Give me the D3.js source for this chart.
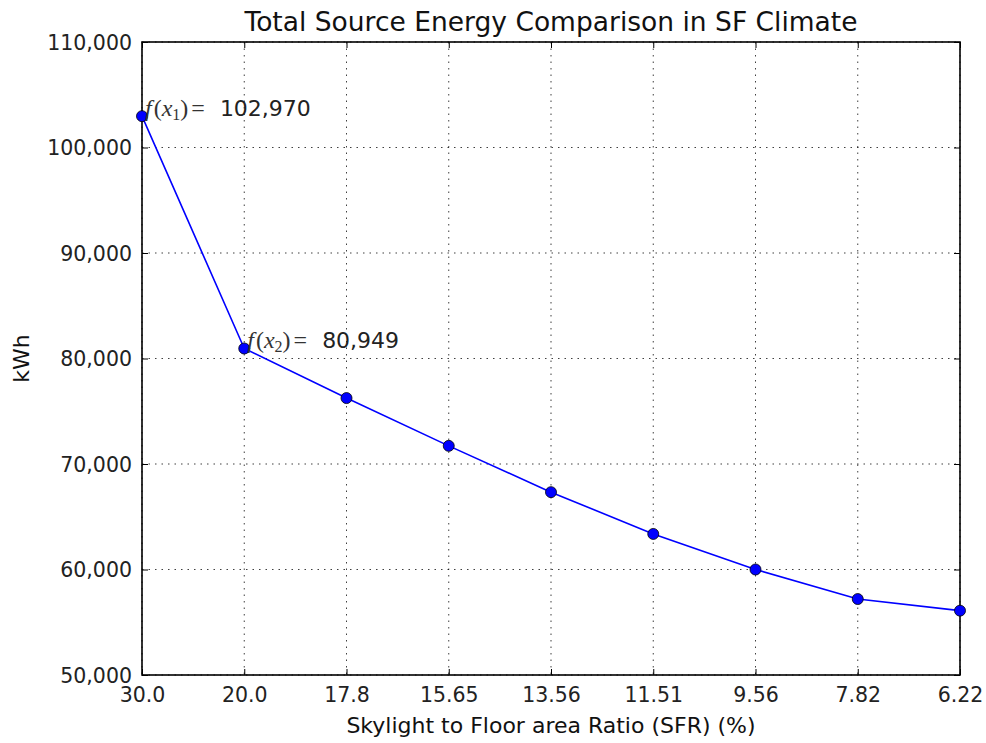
<!DOCTYPE html>
<html><head><meta charset="utf-8">
<script src="https://cdn.jsdelivr.net/npm/d3@7"></script>
<style>
body{margin:0;background:#fff;}
svg{font-family:"DejaVu Sans",sans-serif;}
</style></head>
<body><svg id="c" width="986" height="743"></svg>
<script>
const categories = ["30.0","20.0","17.8","15.65","13.56","11.51","9.56","7.82","6.22"];
const energy = [102970, 80949, 76250, 71720, 67330, 63370, 60000, 57200, 56100];
const yTicks = [50000,60000,70000,80000,90000,100000,110000];
const annotations = [{i:0, sub:"1", label:"102,970"},{i:1, sub:"2", label:"80,949"}];

const L=142, R=960, T=42, B=675;
const svg=d3.select("#c");
const x=d3.scalePoint().domain(categories).range([L,R]);
const y=d3.scaleLinear().domain([50000,110000]).range([B,T]);
const fmt=d3.format(",");

// grid
const g=svg.append("g");
g.selectAll(".gx").data(categories).join("line")
 .attr("x1",d=>x(d)).attr("x2",d=>x(d)).attr("y1",T).attr("y2",B)
 .attr("stroke","#000").attr("stroke-width",1).attr("stroke-dasharray","1.5,5").attr("opacity",0.75);
g.selectAll(".gy").data(yTicks).join("line")
 .attr("x1",L).attr("x2",R).attr("y1",d=>y(d)).attr("y2",d=>y(d))
 .attr("stroke","#000").attr("stroke-width",1).attr("stroke-dasharray","1.5,5").attr("opacity",0.75);

// axes
const ax=d3.axisBottom(x).tickSizeInner(-6).tickSizeOuter(0).tickPadding(10);
const axG=svg.append("g").attr("transform",`translate(0,${B})`).call(ax);
const ay=d3.axisLeft(y).tickValues(yTicks).tickFormat(fmt).tickSizeInner(-6).tickSizeOuter(0).tickPadding(10);
const ayG=svg.append("g").attr("transform",`translate(${L},0)`).call(ay);
const axT=svg.append("g").attr("transform",`translate(0,${T})`).call(d3.axisTop(x).tickSizeInner(-6).tickSizeOuter(0).tickFormat(""));
const ayR=svg.append("g").attr("transform",`translate(${R},0)`).call(d3.axisRight(y).tickValues(yTicks).tickSizeInner(-6).tickSizeOuter(0).tickFormat(""));
[axG,ayG,axT,ayR].forEach(s=>{s.select(".domain").remove();s.selectAll("line").attr("stroke","#000");
 s.selectAll("text").attr("font-size",20.5).attr("fill","#222").attr("font-family","DejaVu Sans");});
axG.selectAll("text").attr("dy","0.85em");
ayG.selectAll("text").attr("dy","0.35em");

// frame
svg.append("rect").attr("x",L).attr("y",T).attr("width",R-L).attr("height",B-T)
 .attr("fill","none").attr("stroke","#000").attr("stroke-width",1.6);

// line
const data=categories.map((c,i)=>({c,v:energy[i]}));
svg.append("path").datum(data).attr("fill","none").attr("stroke","#0000ff").attr("stroke-width",1.6)
 .attr("d",d3.line().x(d=>x(d.c)).y(d=>y(d.v)));
svg.selectAll(".pt").data(data).join("circle")
 .attr("cx",d=>x(d.c)).attr("cy",d=>y(d.v)).attr("r",5.5)
 .attr("fill","#0000ff").attr("stroke","#000").attr("stroke-width",0.8);

// annotations
annotations.forEach(a=>{
  const t=svg.append("text").attr("x",x(categories[a.i])+3).attr("y",y(energy[a.i]))
    .attr("font-size",24).attr("fill","#333");
  const m="Liberation Serif";
  t.append("tspan").attr("font-family",m).attr("font-style","italic").text("f");
  t.append("tspan").attr("font-family",m).attr("dx","2").text("(");
  t.append("tspan").attr("font-family",m).attr("font-style","italic").text("x");
  t.append("tspan").attr("font-family",m).attr("font-size",16).attr("dy","4").text(a.sub);
  t.append("tspan").attr("font-family",m).attr("dy","-4").text(")");
  t.append("tspan").attr("font-family",m).attr("dx","3").text("=");
  t.append("tspan").attr("font-family","DejaVu Sans").attr("font-size",22).attr("fill","#222").attr("dx","15").text(a.label);
});

// titles
svg.append("text").attr("x",(L+R)/2).attr("y",31).attr("text-anchor","middle")
 .attr("font-size",26.5).attr("fill","#111").text("Total Source Energy Comparison in SF Climate");
svg.append("text").attr("x",(L+R)/2).attr("y",733).attr("text-anchor","middle")
 .attr("font-size",22).attr("fill","#111").text("Skylight to Floor area Ratio (SFR) (%)");
svg.append("text").attr("transform",`translate(29,${(T+B)/2}) rotate(-90)`).attr("text-anchor","middle")
 .attr("font-size",22).attr("fill","#111").text("kWh");
</script></body></html>
